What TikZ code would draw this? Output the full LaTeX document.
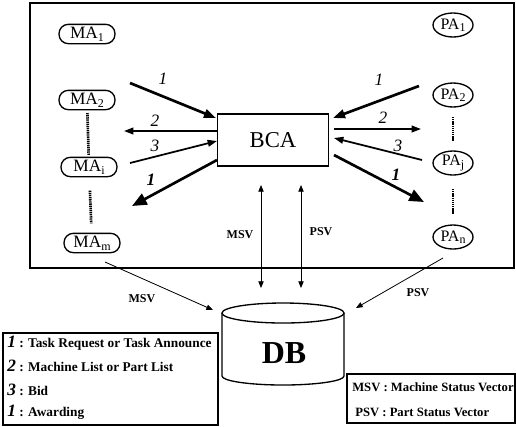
\documentclass[tikz,border=0pt]{standalone}
\usepackage{fontspec}
\setmainfont{Liberation Serif}
\usetikzlibrary{shapes}
\usetikzlibrary{arrows.meta}

\newcommand{\lowidx}[1]{\raisebox{-0.35ex}{\small #1}}

\begin{document}
\begin{tikzpicture}[x=0.75pt, y=0.75pt,
    ma/.style={draw, line width=1pt, rounded corners=7pt, minimum width=42pt,
      minimum height=14.5pt, inner sep=1pt, font=\fontsize{13}{13}\selectfont},
    pa/.style={draw, ellipse, line width=1pt, minimum width=30pt,
      minimum height=18pt, inner sep=0pt, font=\fontsize{12}{12}\selectfont},
    req/.style={line width=2pt, -{Triangle[length=9pt,width=6.5pt]}},
    msg/.style={line width=1.3pt, -{Triangle[length=7pt,width=5pt]}},
    award/.style={line width=2pt, -{Triangle[length=11pt,width=9pt]}},
    sv/.style={line width=0.6pt, -{Triangle[length=5pt,width=4pt]}},
    svboth/.style={line width=0.6pt, {Triangle[length=5pt,width=4pt]}-{Triangle[length=5pt,width=4pt]}},
    dotline/.style={line width=2pt, dash pattern=on 1pt off 0.6pt},
    num/.style={font=\fontsize{13}{13}\selectfont\itshape},
    tag/.style={font=\fontsize{9}{9}\selectfont\bfseries},
    legend/.style={anchor=west, inner sep=0pt, font=\fontsize{10}{10}\selectfont\bfseries}]
    \useasboundingbox (0,0) rectangle (516,-426);

    % agents frame
    \draw[line width=1.5pt] (30,-3) rectangle (514,-268);

    \node[ma] (ma1) at (87,-34) {MA\lowidx{1}};
    \node[ma] (ma2) at (87,-100) {MA\lowidx{2}};
    \node[ma] (mai) at (89,-167) {MA\lowidx{i}};
    \node[ma] (mam) at (92,-243) {MA\lowidx{m}};
    \draw[dotline, shorten <=2pt, shorten >=1pt] (ma2) -- (mai);
    \draw[dotline, shorten <=10pt, shorten >=7pt] (mai) -- (mam);

    \node[pa] (pa1) at (453,-25) {PA\lowidx{1}};
    \node[pa] (pa2) at (453,-95) {PA\lowidx{2}};
    \node[pa] (paj) at (453,-163) {PA\lowidx{j}};
    \node[pa] (pan) at (453,-237) {PA\lowidx{n}};
    \draw[dotline, shorten <=7pt, shorten >=7pt] (pa2) -- (paj);
    \draw[dotline, shorten <=10pt, shorten >=8pt] (paj) -- (pan);

    \node[draw, line width=1pt, minimum width=83pt, minimum height=39pt,
      font=\fontsize{17}{17}\selectfont] (bca) at (273,-140) {BCA};

    % left side messages
    \coordinate (la1) at (130,-83);  \coordinate (lb1) at (216,-118);
    \coordinate (la2) at (217,-131); \coordinate (lb2) at (124,-131);
    \coordinate (la3) at (130,-163); \coordinate (lb3) at (217,-141);
    \coordinate (la4) at (217,-160); \coordinate (lb4) at (132,-206);
    \draw[req] (la1) -- (lb1);
    \draw[msg] (la2) -- (lb2);
    \draw[msg] (la3) -- (lb3);
    \draw[award] (la4) -- (lb4);
    \node[num] (ln1) at (163,-79) {1};
    \node[num] (ln2) at (155,-121) {2};
    \node[num] (ln3) at (155,-146) {3};
    \node[num, font=\fontsize{13}{13}\selectfont\bfseries\itshape] (ln4) at (151,-180) {1};

    % right side messages
    \coordinate (ra1) at (419,-86);  \coordinate (rb1) at (333,-118);
    \coordinate (ra2) at (334,-129); \coordinate (rb2) at (421,-129);
    \coordinate (ra3) at (422,-160); \coordinate (rb3) at (334,-138);
    \coordinate (ra4) at (334,-155); \coordinate (rb4) at (424,-202);
    \draw[req] (ra1) -- (rb1);
    \draw[msg] (ra2) -- (rb2);
    \draw[msg] (ra3) -- (rb3);
    \draw[award] (ra4) -- (rb4);
    \node[num] (rn1) at (379,-80) {1};
    \node[num] (rn2) at (383,-118) {2};
    \node[num] (rn3) at (398,-146) {3};
    \node[num, font=\fontsize{13}{13}\selectfont\bfseries\itshape] (rn4) at (396,-175) {1};

    % data base
    \draw[line width=1pt] (222,-313) -- (222,-376)
      arc[start angle=180, end angle=360, x radius=61, y radius=9] -- (344,-313);
    \draw[line width=1pt] (283,-313) ellipse [x radius=61, y radius=10];
    \node[font=\fontsize{24}{24}\selectfont\bfseries] (db) at (284,-353) {DB};

    \coordinate (msvt) at (261,-185); \coordinate (msvb) at (261,-288);
    \coordinate (psvt) at (301,-185); \coordinate (psvb) at (301,-288);
    \draw[svboth] (msvt) -- (msvb);
    \draw[svboth] (psvt) -- (psvb);
    \node[tag] (msv1) at (240,-235) {MSV};
    \node[tag] (psv1) at (321,-232) {PSV};

    \coordinate (mdb) at (213,-310);
    \coordinate (pdb) at (356,-308);
    \draw[sv] (105,-262) -- (mdb);
    \draw[sv] (443,-258) -- (pdb);
    \node[tag] (msv2) at (142,-299) {MSV};
    \node[tag] (psv2) at (418,-293) {PSV};

    % legends
    \draw[line width=0.8pt] (3,-333) rectangle (218,-425);
    \node[legend] (k1) at (7,-343) {{\fontsize{13}{13}\selectfont\itshape 1} : Task Request or Task Announce};
    \node[legend] (k2) at (7,-366) {{\fontsize{13}{13}\selectfont\itshape 2} : Machine List or Part List};
    \node[legend] (k3) at (7,-390) {{\fontsize{13}{13}\selectfont\itshape 3} : Bid};
    \node[legend] (k4) at (7,-412) {{\fontsize{13}{13}\selectfont\bfseries\itshape 1} : Awarding};

    \draw[line width=0.8pt] (347,-374) rectangle (515,-423);
    \node[legend, font=\fontsize{9.5}{9.5}\selectfont\bfseries] (k5) at (352,-387) {MSV : Machine Status Vector};
    \node[legend, font=\fontsize{9.5}{9.5}\selectfont\bfseries] (k6) at (355,-412) {PSV : Part Status Vector};
\end{tikzpicture}
\end{document}
